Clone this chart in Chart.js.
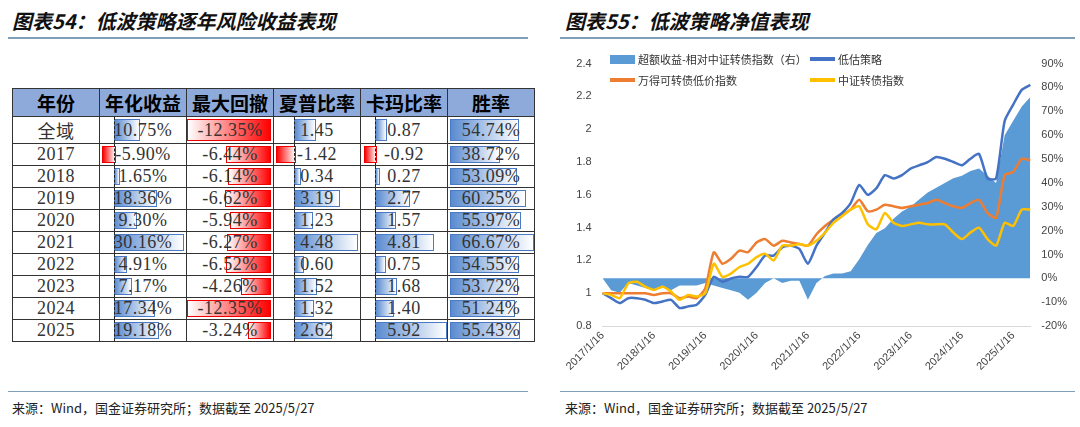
<!DOCTYPE html>
<html><head><meta charset="utf-8">
<script src="https://cdn.jsdelivr.net/npm/chart.js@4.4.1/dist/chart.umd.min.js"></script>
<style>
body{margin:0;width:1080px;height:427px;background:#fff;font-family:"Noto Sans CJK SC",sans-serif;position:relative;overflow:hidden}
.title{position:absolute;top:6px;font-size:20px;font-weight:bold;font-style:italic;color:#111}
.rule{position:absolute;top:37px;height:2px;background:#7f9fb8}
.src{position:absolute;top:398px;font-size:13px;color:#222}
.srcrule{position:absolute;top:391px;height:1px;background:#7f9fb8}
table{position:absolute;left:12px;top:88px;border-collapse:collapse;table-layout:fixed}
td,th{border:1.5px solid #333;height:21px;padding:0;position:relative;font-size:18px;text-align:center;overflow:hidden}
th{background:#8eaadb;font-weight:bold;height:24px;font-size:19px}
td{font-family:"Liberation Serif","Noto Sans CJK SC",serif;color:#333;letter-spacing:0.5px}
.bar{position:absolute;top:2px;bottom:2px;border:1.5px solid #4a7ac4;background:linear-gradient(90deg,#5a8bd0,#fff)}
.neg{border-color:#e00;background:linear-gradient(90deg,#f00,#fff)}
.dd{border-color:#e00;background:linear-gradient(90deg,#fff,#f00)}
.ax{position:absolute;top:0;bottom:0;border-left:1.5px dashed #222}
td span{position:relative}
#leg{position:absolute;left:610px;top:51px;font-size:11px;color:#333;display:grid;grid-template-columns:200px 160px;row-gap:5px}
#leg div{display:flex;align-items:center}
#leg i{display:inline-block;width:25px;height:4px;margin-right:3px}
</style></head><body>
<div class="title" style="left:12px">图表54：低波策略逐年风险收益表现</div>
<div class="rule" style="left:8px;width:520px"></div>
<div class="title" style="left:565px">图表55：低波策略净值表现</div>
<div class="rule" style="left:560px;width:515px"></div>
<div class="srcrule" style="left:8px;width:520px"></div>
<div class="srcrule" style="left:560px;width:515px"></div>
<div class="src" style="left:12px">来源：Wind，国金证券研究所；数据截至 2025/5/27</div>
<div class="src" style="left:565px">来源：Wind，国金证券研究所；数据截至 2025/5/27</div>
<table id="tbl"></table>
<div style="position:absolute;left:565px;top:54px;width:505px;height:322px"><canvas id="c"></canvas></div>
<div id="leg">
<div><i style="background:#5b9bd5;height:9px"></i>超额收益-相对中证转债指数（右）</div>
<div><i style="background:#4472c4"></i>低估策略</div>
<div><i style="background:#ed7d31"></i>万得可转债低价指数</div>
<div><i style="background:#ffc000"></i>中证转债指数</div>
</div>
<script>
// table data
const years = ['全域','2017','2018','2019','2020','2021','2022','2023','2024','2025'];
const annRet = [10.75,-5.90,1.65,18.36,9.30,30.16,4.91,7.17,17.34,19.18];
const maxDD = [-12.35,-6.44,-6.14,-6.62,-5.94,-6.27,-6.52,-4.26,-12.35,-3.24];
const sharpe = [1.45,-1.42,0.34,3.19,1.23,4.48,0.60,1.52,1.32,2.62];
const calmar = [0.87,-0.92,0.27,2.77,1.57,4.81,0.75,1.68,1.40,5.92];
const winRate = [54.74,38.72,53.09,60.25,55.97,66.67,54.55,53.72,51.24,55.43];
const headers = ['年份','年化收益','最大回撤','夏普比率','卡玛比率','胜率'];
const colW = [86,86,86,86,86,86];

// chart data (bi-monthly)
const dates = [];
for (let y = 2017; y <= 2025; y++) for (let m = 1; m <= 11; m += 2) if (!(y === 2025 && m > 5)) dates.push(y + '/' + m + '/16');
const lowVal = [1.00,0.97,0.94,0.97,0.97,0.96, 0.94,0.95,0.96,0.91,0.92,0.93, 0.99,1.10,1.07,1.09,1.10,1.10,
  1.16,1.23,1.23,1.28,1.29,1.27, 1.18,1.29,1.37,1.45,1.49,1.55, 1.66,1.60,1.64,1.72,1.70,1.72,
  1.76,1.78,1.80,1.83,1.82,1.80, 1.78,1.82,1.85,1.70,1.70,2.05, 2.15,2.24,2.27];
const windLow = [1.00,1.00,1.00,1.00,1.00,1.00, 0.99,1.00,1.00,0.97,0.98,0.97, 1.03,1.25,1.18,1.21,1.26,1.25,
  1.31,1.33,1.29,1.32,1.31,1.30, 1.29,1.36,1.41,1.45,1.48,1.51, 1.57,1.50,1.51,1.54,1.53,1.52,
  1.53,1.54,1.55,1.57,1.55,1.53, 1.52,1.55,1.57,1.49,1.46,1.72, 1.74,1.82,1.81];
const csiCB = [1.00,0.99,0.97,1.06,1.07,1.04, 1.02,1.04,1.01,0.96,0.99,0.98, 1.00,1.18,1.10,1.12,1.16,1.18,
  1.22,1.24,1.20,1.29,1.29,1.30, 1.29,1.32,1.37,1.43,1.47,1.51, 1.53,1.42,1.39,1.49,1.43,1.41,
  1.42,1.43,1.42,1.42,1.42,1.37, 1.33,1.37,1.40,1.33,1.29,1.43, 1.41,1.51,1.51];
const excess = [0,-5,-6,-2,-3,-4, -5,-3,-5,-3,-3,-3, -2,-3,-4,-5,-6,-9, -6,-2,0,-2,-1,-1,
  -9,-2,1,2,2,3, 8,14,19,21,25,28, 30,33,36,38,40,42, 43,45,46,43,40,60, 66,72,76];

// build table
const tbl = document.getElementById('tbl');
let html = '<tr>' + headers.map((h, i) => `<th style="width:${colW[i]}px">${h}</th>`).join('') + '</tr>';
const barCell = (v, txt, zeroPx, maxV, span) => {
  let b;
  if (v >= 0) b = `<div class="bar" style="left:${zeroPx}px;width:${v / maxV * span}px"></div>`;
  else {
    const w = Math.min(-v / maxV * span, zeroPx - 2);
    b = `<div class="bar neg" style="left:${zeroPx - w}px;width:${w}px"></div>`;
  }
  return `<td>${b}<div class="ax" style="left:${zeroPx}px"></div><span>${txt}</span></td>`;
};
years.forEach((y, i) => {
  html += '<tr><td>' + y + '</td>';
  html += barCell(annRet[i], annRet[i].toFixed(2) + '%', 14, 30.16, 68);
  const w = -maxDD[i] / 12.35 * 82;
  html += `<td><div class="bar dd" style="right:2px;width:${w}px"></div><span>${maxDD[i].toFixed(2)}%</span></td>`;
  html += barCell(sharpe[i], sharpe[i].toFixed(2), 20, 4.48, 62);
  html += barCell(calmar[i], calmar[i].toFixed(2), 14, 5.92, 70);
  html += `<td><div class="bar" style="left:2px;width:${winRate[i] / 66.67 * 82}px"></div><span>${winRate[i].toFixed(2)}%</span></td>`;
  html += '</tr>';
});
tbl.innerHTML = html;

const tickFont = { family: 'Liberation Sans', size: 11 };
new Chart(document.getElementById('c'), {
  data: {
    labels: dates,
    datasets: [
      { type: 'line', label: '低估策略', data: lowVal, borderColor: '#4472c4', borderWidth: 2.5, pointRadius: 0, yAxisID: 'y', order: 1, tension: 0.2 },
      { type: 'line', label: '万得可转债低价指数', data: windLow, borderColor: '#ed7d31', borderWidth: 2.5, pointRadius: 0, yAxisID: 'y', order: 2, tension: 0.2 },
      { type: 'line', label: '中证转债指数', data: csiCB, borderColor: '#ffc000', borderWidth: 2.5, pointRadius: 0, yAxisID: 'y', order: 0, tension: 0.2 },
      { type: 'line', label: '超额收益-相对中证转债指数（右）', data: excess, borderWidth: 0, backgroundColor: '#5b9bd5', fill: 'origin', pointRadius: 0, yAxisID: 'y1', order: 5 }
    ]
  },
  options: {
    animation: false, responsive: true, maintainAspectRatio: false,
    layout: { padding: { top: 4, right: 0 } },
    plugins: { legend: { display: false }, tooltip: { enabled: false } },
    scales: {
      x: {
        offset: false,
        grid: { display: false, drawTicks: false },
        border: { color: '#d9d9d9' },
        ticks: {
          font: tickFont, color: '#444', maxRotation: 45, minRotation: 45, autoSkip: false,
          callback: function (v) { const l = this.getLabelForValue(v); return /\/1\/16$/.test(l) ? l : ''; }
        }
      },
      y: {
        min: 0.8, max: 2.4, position: 'left',
        grid: { display: false }, border: { display: false },
        ticks: { stepSize: 0.2, font: tickFont, color: '#444', callback: v => Math.round(v * 10) / 10 }
      },
      y1: {
        min: -20, max: 90, position: 'right',
        grid: { display: false }, border: { display: false },
        ticks: { stepSize: 10, font: tickFont, color: '#444', callback: v => v + '%' }
      }
    }
  }
});
</script>
</body></html>
